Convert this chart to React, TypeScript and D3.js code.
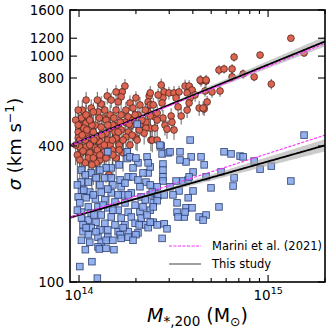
import React, { Component } from "react";
import * as d3 from "d3";

// stellar mass in units of 1e14 Msun, sigma and error in km/s
const redPoints: [number, number, number][] = [
  [1.75, 737, 55], [1.69, 694, 50], [1.67, 660, 60], [1.41, 666, 55], [1.31, 614, 50], [1.61, 627, 55], [1.86, 620, 50], [2.0, 653, 45], [2.35, 666, 45], [2.32, 627, 50],
  [1.04, 577, 60], [1.16, 589, 55], [1.26, 566, 60], [1.57, 577, 55], [1.93, 589, 50], [2.1, 608, 50], [1.03, 532, 55], [1.12, 532, 60], [1.34, 532, 55], [1.46, 549, 60],
  [1.67, 549, 50], [1.82, 538, 55], [2.05, 549, 50], [2.32, 566, 45], [2.52, 538, 45], [1.01, 495, 60], [1.09, 505, 55], [1.22, 495, 60], [1.31, 485, 55], [1.46, 480, 60],
  [1.61, 495, 55], [1.75, 510, 50], [1.89, 495, 55], [2.1, 495, 50], [2.26, 510, 45], [2.38, 480, 45], [0.99, 461, 65], [1.08, 456, 60], [1.19, 461, 60], [1.29, 447, 55],
  [1.39, 456, 60], [1.55, 461, 55], [1.67, 471, 50], [1.82, 461, 55], [2.0, 434, 50], [2.26, 480, 45], [0.99, 434, 70], [1.08, 425, 65], [1.16, 434, 60], [1.29, 417, 65],
  [1.42, 425, 60], [1.57, 434, 55], [1.77, 438, 55], [2.4, 425, 45], [1.01, 396, 75], [1.09, 396, 70], [1.22, 392, 70], [1.31, 396, 65], [1.46, 404, 60], [1.03, 373, 80],
  [1.14, 373, 80], [1.23, 365, 75], [1.12, 354, 85], [1.29, 347, 80], [1.08, 337, 95], [1.23, 337, 90], [1.57, 354, 70], [1.44, 298, 80], [1.71, 373, 65], [1.19, 354, 85],
  [6.61, 990, 45], [5.5, 868, 45], [5.85, 877, 40], [6.45, 877, 45], [6.45, 809, 40], [7.38, 834, 40], [4.42, 776, 45], [4.7, 776, 45], [3.64, 737, 50], [3.82, 737, 45],
  [3.96, 708, 45], [2.72, 745, 50], [2.82, 694, 50], [2.99, 687, 45], [3.18, 687, 50], [3.38, 694, 45], [3.73, 687, 45], [4.11, 673, 45], [4.64, 701, 40], [5.05, 694, 40],
  [5.57, 701, 40], [2.38, 687, 50], [2.78, 653, 50], [3.26, 653, 45], [3.87, 653, 45], [4.76, 627, 40], [2.75, 620, 50], [3.34, 596, 45], [3.82, 620, 45], [2.38, 608, 50],
  [4.32, 589, 45], [4.59, 583, 40], [3.73, 577, 45], [3.47, 543, 45], [3.07, 543, 45], [2.59, 560, 50], [2.38, 543, 50], [2.78, 532, 45], [2.59, 521, 50], [3.1, 510, 45],
  [2.85, 495, 50], [3.18, 471, 45], [2.92, 475, 45], [2.44, 425, 50], [2.59, 425, 45],
  [13.2, 1200, 30], [9.07, 1011, 35], [15.5, 1032, 30], [8.44, 809, 35], [10.4, 752, 40], [4.53, 589, 40], [4.37, 784, 40], [4.7, 784, 40], [2.03, 425, 45],
  [0.96, 521, 60], [0.96, 404, 75], [1.06, 480, 60], [1.14, 404, 70], [1.23, 434, 60], [1.36, 377, 70], [1.5, 384, 65], [1.51, 495, 55], [1.39, 521, 55], [1.19, 566, 55],
  [1.09, 639, 55], [1.63, 404, 60], [1.86, 404, 55], [1.93, 521, 50], [2.21, 456, 50], [0.98, 365, 85],
  [0.99, 577, 60], [1.01, 425, 70], [1.05, 380, 80], [1.1, 471, 65], [1.17, 495, 60], [1.2, 425, 70], [1.25, 384, 75], [1.32, 447, 60], [1.37, 577, 55], [1.42, 495, 60],
  [1.5, 425, 65], [1.53, 532, 55], [1.61, 461, 60], [1.65, 510, 55], [1.71, 425, 60], [1.77, 577, 50], [1.84, 500, 55], [1.91, 447, 55], [1.98, 549, 50], [2.08, 471, 50],
  [2.15, 521, 50], [2.24, 577, 45], [2.47, 608, 45], [2.52, 480, 45], [2.62, 673, 45], [0.99, 495, 65], [1.04, 447, 70], [1.09, 549, 60], [1.14, 521, 60], [1.28, 532, 55],
  [1.36, 404, 70], [1.01, 347, 95], [1.17, 330, 95], [1.29, 365, 80], [1.39, 354, 80], [1.51, 365, 70], [1.63, 384, 65], [1.48, 639, 50], [1.57, 694, 50], [1.25, 639, 55],
];

const bluePoints: [number, number][] = [
  [1.8, 352], [2.05, 337], [1.93, 320], [2.32, 304], [2.18, 304], [1.63, 330], [1.48, 320], [1.39, 320], [1.29, 313], [1.16, 304],
  [1.03, 313], [1.08, 298], [1.23, 289], [1.37, 289], [1.48, 289], [1.65, 283], [1.82, 292], [1.93, 292], [2.05, 283], [2.26, 277],
  [1.03, 277], [1.12, 277], [1.29, 269], [1.51, 269], [1.67, 264], [1.75, 274], [2.1, 264], [1.03, 255], [1.14, 250], [1.31, 250],
  [1.48, 248], [1.71, 243], [1.89, 248], [2.13, 238], [2.38, 243], [2.52, 248], [0.99, 238], [1.09, 236], [1.22, 233], [1.37, 231],
  [1.55, 226], [1.75, 224], [1.98, 219], [2.24, 231], [2.47, 224], [1.01, 224], [1.12, 215], [1.26, 215], [1.42, 213], [1.61, 208],
  [1.82, 204], [2.1, 204], [2.38, 208], [1.03, 204], [1.16, 202], [1.31, 198], [1.48, 194], [1.67, 192], [1.89, 194], [2.13, 192],
  [1.03, 192], [1.12, 188], [1.23, 184], [1.37, 182], [1.55, 179], [1.75, 179], [1.98, 182], [2.24, 179], [2.47, 184], [1.05, 179],
  [1.16, 174], [1.29, 170], [1.42, 170], [1.61, 167], [1.82, 167], [2.05, 165], [2.32, 174], [1.05, 167], [1.12, 162], [1.26, 158],
  [1.42, 158], [1.65, 162], [1.82, 158], [2.0, 162], [1.03, 153], [1.14, 150], [1.31, 150], [1.67, 156], [1.39, 153], [1.26, 143],
  [1.28, 140], [1.53, 139], [1.17, 123], [1.01, 117], [1.25, 104],
  [3.87, 425], [2.72, 400], [2.75, 369], [2.96, 373], [3.42, 377], [3.92, 358], [4.42, 358], [3.68, 340], [4.59, 330], [5.85, 377],
  [6.37, 369], [7.11, 361], [2.78, 333], [2.78, 313], [4.01, 307], [5.64, 307], [2.38, 323], [2.78, 292], [2.78, 280], [3.26, 280],
  [3.55, 280], [3.78, 283], [3.82, 292], [4.7, 292], [6.61, 289], [6.53, 266], [2.38, 269], [2.59, 264], [3.03, 264], [3.38, 253],
  [4.01, 253], [4.99, 261], [2.44, 250], [2.62, 241], [2.82, 243], [3.14, 243], [3.78, 236], [2.59, 229], [2.47, 215], [3.3, 224],
  [3.68, 213], [3.96, 213], [5.5, 215], [3.3, 204], [3.6, 194], [3.34, 194], [4.32, 194], [4.7, 198], [4.53, 188], [2.38, 184],
  [2.59, 179], [2.82, 181], [2.92, 172], [2.75, 156], [3.64, 204],
  [15.5, 447], [7.38, 358], [8.44, 343], [9.07, 316], [10.4, 326], [13.2, 280],
  [2.03, 500], [1.42, 377], [1.8, 377], [1.86, 358], [2.0, 354], [2.29, 358], [2.32, 337], [2.68, 404], [3.03, 377], [3.42, 347],
  [0.98, 269], [1.06, 255], [1.19, 243], [1.34, 219], [1.51, 208], [1.2, 198], [1.09, 174], [1.51, 153], [1.71, 174], [1.93, 153],
  [2.18, 215], [1.61, 243], [1.42, 258], [1.82, 243], [0.98, 208], [1.23, 167], [1.39, 141], [1.08, 139], [2.08, 179], [2.29, 198],
];

// power-law fits: sigma = norm * (M / 1e14)^slope
const redFitStudy = { norm: 418, slope: 0.341 };
const redFitMarini = { norm: 417, slope: 0.335 };
const blueFitStudy = { norm: 198, slope: 0.237 };
const blueFitMarini = { norm: 199, slope: 0.27 };
// band half width in dex: sqrt(a^2 + (b * (logM - pivot))^2)
const redBand = { pivot: 14.25, a: 0.004, b: 0.021 };
const blueBand = { pivot: 14.2, a: 0.005, b: 0.024 };

const yTicks = [100, 400, 800, 1000, 1200, 1600];
const xMajor = [1e14, 1e15];
const xMinor = [2e14, 3e14, 4e14, 5e14, 6e14, 7e14, 8e14, 9e14, 2e15];
const legendItems = [
  { label: "Marini et al. (2021)", color: "#ff2cff", dash: "3,1.5" },
  { label: "This study", color: "#808080", dash: null },
];

export default class App extends Component {
  chartRef = React.createRef<SVGSVGElement>();

  componentDidMount() {
    const svg = d3.select(this.chartRef.current);
    svg.selectAll("*").remove();
    const font = "DejaVu Sans, sans-serif";
    const left = 70, right = 325, top = 10, bottom = 282;

    const x = d3.scaleLog().domain([0.896e14, 2.0e15]).range([left, right]);
    const y = d3.scaleLog().domain([100, 1600]).range([bottom, top]);

    const plot = svg.append("g");
    plot.append("clipPath").attr("id", "clip")
      .append("rect").attr("x", left).attr("y", top).attr("width", right - left).attr("height", bottom - top);
    const g = plot.append("g").attr("clip-path", "url(#clip)");

    // red error bars + circles
    g.append("g").selectAll("line").data(redPoints).enter().append("line")
      .attr("x1", d => x(d[0] * 1e14)).attr("x2", d => x(d[0] * 1e14))
      .attr("y1", d => y(d[1] - d[2])).attr("y2", d => y(d[1] + d[2]))
      .attr("stroke", "#333").attr("stroke-width", 1).attr("opacity", 0.75);
    g.append("g").selectAll("circle").data(redPoints).enter().append("circle")
      .attr("cx", d => x(d[0] * 1e14)).attr("cy", d => y(d[1])).attr("r", 3.4)
      .attr("fill", "#dc6450").attr("stroke", "#3d1d17").attr("stroke-width", 0.7);

    // blue squares
    const s = 6.6;
    g.append("g").selectAll("rect").data(bluePoints).enter().append("rect")
      .attr("x", d => x(d[0] * 1e14) - s / 2).attr("y", d => y(d[1]) - s / 2)
      .attr("width", s).attr("height", s)
      .attr("fill", "#89a8ec").attr("fill-opacity", 0.9)
      .attr("stroke", "#26386a").attr("stroke-width", 0.9).attr("stroke-opacity", 0.85);

    // fits
    const dom = x.domain();
    const grid = d3.range(0, 121).map(i => dom[0] * Math.pow(dom[1] / dom[0], i / 120));
    const fitVal = (f: any, m: number) => f.norm * Math.pow(m / 1e14, f.slope);
    const half = (b: any, m: number) => Math.sqrt(b.a * b.a + Math.pow(b.b * (Math.log10(m) - b.pivot), 2));

    [[redFitStudy, redBand], [blueFitStudy, blueBand]].forEach(([f, b]) => {
      const area = d3.area<number>()
        .x(m => x(m))
        .y0(m => y(fitVal(f, m) * Math.pow(10, -half(b, m))))
        .y1(m => y(fitVal(f, m) * Math.pow(10, half(b, m))));
      g.append("path").datum(grid).attr("d", area).attr("fill", "#a8a8a8").attr("opacity", 0.6);
    });

    const line = (f: any) => d3.line<number>().x(m => x(m)).y(m => y(fitVal(f, m)));
    [redFitStudy, blueFitStudy].forEach(f => {
      g.append("path").datum(grid).attr("d", line(f)).attr("fill", "none")
        .attr("stroke", "#000").attr("stroke-width", 1.8);
    });
    [redFitMarini, blueFitMarini].forEach(f => {
      g.append("path").datum(grid).attr("d", line(f)).attr("fill", "none")
        .attr("stroke", "#ff2cff").attr("stroke-width", 1.1).attr("stroke-dasharray", "3,1.5");
    });

    // frame
    svg.append("rect").attr("x", left).attr("y", top).attr("width", right - left).attr("height", bottom - top)
      .attr("fill", "none").attr("stroke", "#000").attr("stroke-width", 1.6);

    // ticks (inward, all sides)
    const ticks = svg.append("g").attr("stroke", "#000").attr("stroke-width", 1.1);
    const xt = (v: number, len: number) => {
      ticks.append("line").attr("x1", x(v)).attr("x2", x(v)).attr("y1", bottom).attr("y2", bottom - len);
      ticks.append("line").attr("x1", x(v)).attr("x2", x(v)).attr("y1", top).attr("y2", top + len);
    };
    xMajor.forEach(v => xt(v, 7));
    xMinor.forEach(v => xt(v, 4));
    yTicks.forEach(v => {
      ticks.append("line").attr("x1", left).attr("x2", left + 7).attr("y1", y(v)).attr("y2", y(v));
      ticks.append("line").attr("x1", right).attr("x2", right - 7).attr("y1", y(v)).attr("y2", y(v));
    });

    svg.append("g").selectAll("text").data(yTicks).enter().append("text")
      .attr("x", left - 6).attr("y", d => y(d)).attr("dy", "0.36em")
      .attr("text-anchor", "end").attr("font-family", font).attr("font-size", 13.5)
      .text(d => String(d));

    xMajor.forEach(v => {
      const t = svg.append("text").attr("x", x(v)).attr("y", 300).attr("text-anchor", "middle")
        .attr("font-family", font).attr("font-size", 13.5);
      t.append("tspan").text("10");
      t.append("tspan").attr("dy", -6).attr("font-size", 9.5).text(String(Math.round(Math.log10(v))));
    });

    // axis labels
    const xl = svg.append("text").attr("x", 197.5).attr("y", 322).attr("text-anchor", "middle")
      .attr("font-family", font).attr("font-size", 19);
    xl.append("tspan").attr("font-style", "italic").text("M");
    xl.append("tspan").attr("font-size", 13.5).attr("dy", 4).text("*,200");
    xl.append("tspan").attr("dy", -4).text(" (M");
    xl.append("tspan").attr("font-size", 12.5).attr("dy", 4).text("⊙");
    xl.append("tspan").attr("dy", -4).text(")");

    const yl = svg.append("text").attr("transform", "translate(21,144) rotate(-90)")
      .attr("text-anchor", "middle").attr("font-family", font).attr("font-size", 18);
    yl.append("tspan").attr("font-style", "italic").text("σ");
    yl.append("tspan").text(" (km s");
    yl.append("tspan").attr("font-size", 12.5).attr("dy", -7).text("−1");
    yl.append("tspan").attr("dy", 7).text(")");

    // legend
    const lg = svg.append("g");
    legendItems.forEach((it, i) => {
      const ly = 246 + i * 18;
      lg.append("line").attr("x1", 169).attr("x2", 201).attr("y1", ly).attr("y2", ly)
        .attr("stroke", it.color).attr("stroke-width", it.dash ? 1.1 : 1.5)
        .attr("stroke-dasharray", it.dash || null);
      lg.append("text").attr("x", 212).attr("y", ly).attr("dy", "0.36em")
        .attr("font-family", font).attr("font-size", 11.5).text(it.label);
    });
  }

  render() {
    return (
      <svg ref={this.chartRef} width={336} height={336}
        style={{ position: "absolute", left: 0, top: 0, background: "#fff" }} />
    );
  }
}
